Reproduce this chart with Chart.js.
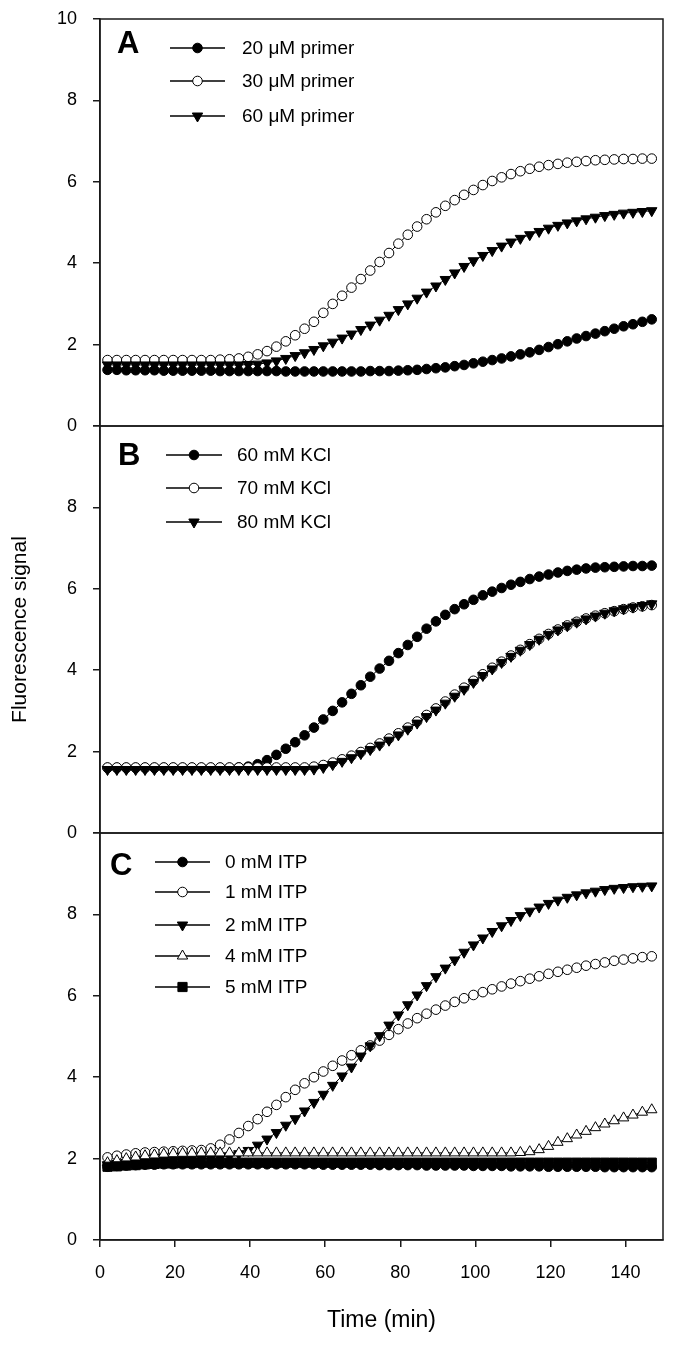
<!DOCTYPE html>
<html><head><meta charset="utf-8">
<script src="https://cdn.jsdelivr.net/npm/chart.js@4.4.1/dist/chart.umd.min.js"></script>
<style>
html,body{margin:0;padding:0;background:#fff;width:676px;height:1346px;overflow:hidden;}
.p{position:absolute;left:0;}
canvas{display:block;}
</style></head><body>
<div class="p" style="top:0px"><canvas id="cA" width="676" height="450" style="width:676px;height:450px"></canvas></div>
<div class="p" style="top:410px"><canvas id="cB" width="676" height="440" style="width:676px;height:440px"></canvas></div>
<div class="p" style="top:817px"><canvas id="cC" width="676" height="529" style="width:676px;height:529px"></canvas></div>
<script>
// ---------- data ----------
const time = [2,4.5,7,9.5,12,14.5,17,19.5,22,24.5,
  27,29.5,32,34.5,37,39.5,42,44.5,47,49.5,
  52,54.5,57,59.5,62,64.5,67,69.5,72,74.5,
  77,79.5,82,84.5,87,89.5,92,94.5,97,99.5,
  102,104.5,107,109.5,112,114.5,117,119.5,122,124.5,
  127,129.5,132,134.5,137,139.5,142,144.5,147];

const xTicks = [0,20,40,60,80,100,120,140];
const yTicks = [0,2,4,6,8,10];

// Panel A
const primerLabels = ['20 \u03bcM primer','30 \u03bcM primer','60 \u03bcM primer'];
const primer20 = [1.38,1.38,1.37,1.37,1.37,1.37,1.36,1.36,1.36,1.36,
  1.36,1.36,1.35,1.35,1.35,1.35,1.35,1.35,1.35,1.34,
  1.34,1.34,1.34,1.34,1.34,1.34,1.34,1.34,1.35,1.35,
  1.35,1.36,1.37,1.38,1.40,1.42,1.44,1.47,1.50,1.54,
  1.58,1.62,1.66,1.71,1.76,1.81,1.87,1.94,2.01,2.08,
  2.15,2.21,2.27,2.33,2.39,2.45,2.50,2.56,2.62];
const primer30 = [1.62,1.62,1.62,1.62,1.62,1.62,1.62,1.62,1.62,1.62,
  1.62,1.62,1.63,1.64,1.66,1.70,1.76,1.84,1.95,2.08,
  2.23,2.39,2.56,2.78,3.00,3.20,3.40,3.61,3.82,4.03,
  4.25,4.48,4.70,4.90,5.08,5.25,5.41,5.55,5.68,5.80,
  5.92,6.02,6.11,6.19,6.26,6.32,6.37,6.41,6.44,6.47,
  6.49,6.51,6.53,6.54,6.55,6.56,6.56,6.57,6.57];
const primer60 = [1.50,1.50,1.50,1.50,1.50,1.50,1.50,1.50,1.50,1.50,
  1.50,1.50,1.50,1.50,1.50,1.51,1.52,1.55,1.60,1.66,
  1.73,1.80,1.88,1.97,2.06,2.16,2.26,2.37,2.48,2.60,
  2.72,2.86,3.00,3.14,3.29,3.44,3.60,3.76,3.92,4.06,
  4.19,4.31,4.42,4.52,4.61,4.70,4.78,4.86,4.93,4.99,
  5.04,5.09,5.13,5.17,5.20,5.23,5.25,5.27,5.29];

// Panel B
const kclLabels = ['60 mM KCl','70 mM KCl','80 mM KCl'];
const kcl60 = [1.60,1.60,1.60,1.60,1.60,1.60,1.60,1.60,1.60,1.60,
  1.60,1.60,1.60,1.60,1.61,1.63,1.69,1.79,1.92,2.07,
  2.23,2.40,2.59,2.79,3.00,3.21,3.42,3.63,3.84,4.04,
  4.23,4.42,4.62,4.82,5.02,5.20,5.36,5.50,5.62,5.73,
  5.84,5.93,6.02,6.10,6.17,6.24,6.30,6.35,6.40,6.44,
  6.47,6.50,6.52,6.53,6.54,6.55,6.56,6.56,6.57];
const kcl70 = [1.61,1.61,1.61,1.61,1.61,1.61,1.61,1.61,1.61,1.61,
  1.61,1.61,1.61,1.61,1.61,1.61,1.61,1.61,1.61,1.61,
  1.61,1.61,1.63,1.67,1.73,1.81,1.90,1.99,2.09,2.20,
  2.32,2.45,2.59,2.74,2.90,3.06,3.23,3.40,3.57,3.74,
  3.90,4.06,4.21,4.36,4.50,4.64,4.77,4.89,5.00,5.10,
  5.19,5.27,5.34,5.40,5.45,5.50,5.54,5.57,5.60];
const kcl80 = [1.56,1.56,1.56,1.56,1.56,1.56,1.56,1.56,1.56,1.56,
  1.56,1.56,1.56,1.56,1.56,1.56,1.56,1.56,1.56,1.56,
  1.56,1.56,1.57,1.61,1.68,1.76,1.85,1.95,2.05,2.16,
  2.28,2.41,2.55,2.70,2.86,3.02,3.19,3.36,3.53,3.70,
  3.87,4.03,4.19,4.34,4.49,4.63,4.76,4.88,4.99,5.09,
  5.18,5.26,5.33,5.40,5.46,5.51,5.55,5.59,5.63];

// Panel C
const itpLabels = ['0 mM ITP','1 mM ITP','2 mM ITP','4 mM ITP','5 mM ITP'];
const itp0 = [1.80,1.82,1.83,1.84,1.85,1.85,1.86,1.86,1.86,1.86,
  1.86,1.86,1.86,1.86,1.86,1.86,1.86,1.86,1.86,1.86,
  1.86,1.86,1.86,1.85,1.85,1.85,1.85,1.85,1.85,1.84,
  1.84,1.84,1.84,1.84,1.83,1.83,1.83,1.83,1.83,1.82,
  1.82,1.82,1.82,1.81,1.81,1.81,1.81,1.80,1.80,1.80,
  1.80,1.80,1.80,1.79,1.79,1.79,1.79,1.79,1.79];
const itp1 = [2.03,2.07,2.10,2.13,2.15,2.16,2.17,2.18,2.19,2.20,
  2.21,2.25,2.34,2.47,2.63,2.80,2.97,3.15,3.32,3.51,
  3.69,3.85,4.00,4.14,4.28,4.41,4.54,4.66,4.78,4.90,
  5.04,5.18,5.32,5.45,5.56,5.66,5.76,5.85,5.94,6.02,
  6.09,6.16,6.23,6.30,6.36,6.42,6.48,6.54,6.59,6.64,
  6.69,6.74,6.78,6.82,6.86,6.89,6.92,6.95,6.97];
const itp2 = [1.85,1.88,1.90,1.92,1.94,1.95,1.96,1.97,1.98,1.99,
  2.00,2.01,2.03,2.06,2.12,2.20,2.33,2.48,2.64,2.82,
  2.98,3.17,3.38,3.58,3.80,4.03,4.25,4.52,4.77,5.02,
  5.28,5.53,5.78,6.02,6.25,6.47,6.68,6.88,7.07,7.25,
  7.42,7.58,7.72,7.85,7.97,8.08,8.18,8.27,8.35,8.42,
  8.48,8.53,8.57,8.61,8.64,8.66,8.68,8.69,8.70];
const itp4 = [1.90,1.95,2.00,2.04,2.07,2.09,2.11,2.12,2.13,2.13,
  2.14,2.14,2.14,2.14,2.14,2.14,2.14,2.14,2.14,2.14,
  2.14,2.14,2.14,2.14,2.14,2.14,2.14,2.14,2.14,2.14,
  2.14,2.14,2.14,2.14,2.14,2.14,2.14,2.14,2.14,2.14,
  2.14,2.14,2.14,2.14,2.15,2.17,2.22,2.30,2.40,2.49,
  2.58,2.67,2.76,2.85,2.93,3.00,3.07,3.14,3.20];
const itp5 = [1.80,1.81,1.83,1.84,1.86,1.87,1.88,1.88,1.89,1.89,
  1.90,1.90,1.90,1.90,1.90,1.90,1.90,1.90,1.90,1.90,
  1.90,1.90,1.90,1.90,1.90,1.90,1.90,1.90,1.90,1.90,
  1.90,1.90,1.90,1.90,1.90,1.90,1.90,1.90,1.90,1.90,
  1.90,1.90,1.90,1.90,1.90,1.90,1.90,1.90,1.90,1.90,
  1.90,1.90,1.90,1.90,1.90,1.90,1.90,1.90,1.90];

// ---------- styles ----------
const FONT = "'Liberation Sans', Arial, Helvetica, sans-serif";
const INK = '#1a1a1a';
Chart.defaults.font.family = FONT;
Chart.defaults.color = '#000';

const MK = {
  filledCircle: {pointStyle:'circle', radius:4.8, rotation:0, fill:'#000'},
  openCircle:   {pointStyle:'circle', radius:4.8, rotation:0, fill:'#fff'},
  downTri:      {pointStyle:'triangle', radius:6, rotation:180, fill:'#000'},
  upTri:        {pointStyle:'triangle', radius:6, rotation:0, fill:'#fff'},
  square:       {pointStyle:'rect', radius:6.5, rotation:0, fill:'#000'}
};

function ds(label, values, mk, idx) {
  return {
    label: label,
    data: time.map((t, i) => ({x: t, y: values[i]})),
    order: -idx,
    showLine: true,
    borderColor: '#000',
    borderWidth: 1,
    pointStyle: mk.pointStyle,
    pointRadius: mk.radius,
    pointRotation: mk.rotation,
    pointBackgroundColor: mk.fill,
    pointBorderColor: '#000',
    pointBorderWidth: 1,
    fill: false,
    tension: 0,
    _mk: mk
  };
}

function drawMarker(ctx, mk, x, y) {
  ctx.save();
  ctx.fillStyle = mk.fill;
  ctx.strokeStyle = '#000';
  ctx.lineWidth = 1;
  if (Chart.helpers && Chart.helpers.drawPoint) {
    Chart.helpers.drawPoint(ctx, {pointStyle: mk.pointStyle, rotation: mk.rotation, radius: mk.radius, borderWidth: 1}, x, y);
  } else {
    ctx.beginPath(); ctx.arc(x, y, mk.radius, 0, Math.PI*2); ctx.fill(); ctx.stroke();
  }
  ctx.restore();
}

const panelPlugin = {
  id: 'panelDeco',
  afterDraw(chart) {
    const o = chart.options.plugins.panelDeco;
    if (!o) return;
    const ctx = chart.ctx;
    const a = chart.chartArea;
    ctx.save();
    ctx.strokeStyle = INK;
    ctx.lineWidth = 1.5;
    ctx.strokeRect(a.left, a.top, a.right - a.left, a.bottom - a.top);
    ctx.fillStyle = '#000';
    ctx.font = 'bold 31px ' + FONT;
    ctx.textAlign = 'left';
    ctx.textBaseline = 'alphabetic';
    ctx.fillText(o.letter, a.left + o.letterX, a.top + o.letterY);
    ctx.font = '19px ' + FONT;
    ctx.textBaseline = 'middle';
    chart.data.datasets.forEach((d, i) => {
      const y = a.top + o.rows[i];
      ctx.strokeStyle = '#000';
      ctx.lineWidth = 1.5;
      ctx.beginPath();
      ctx.moveTo(a.left + o.x1, y);
      ctx.lineTo(a.left + o.x2, y);
      ctx.stroke();
      drawMarker(ctx, d._mk, a.left + (o.x1 + o.x2) / 2, y);
      ctx.fillStyle = '#000';
      ctx.fillText(d.label, a.left + o.tx, y + 1);
    });
    ctx.restore();
  }
};

function makeOptions(cfg) {
  return {
    responsive: false,
    animation: false,
    devicePixelRatio: 1,
    events: [],
    layout: {padding: {left: 0, right: 13, top: cfg.padTop, bottom: cfg.padBottom}},
    plugins: {
      legend: {display: false},
      tooltip: {enabled: false},
      panelDeco: cfg.deco
    },
    scales: {
      x: {
        type: 'linear',
        min: 0, max: 150,
        display: cfg.showX,
        afterBuildTicks: (s) => { s.ticks = xTicks.map(v => ({value: v})); },
        afterFit: (s) => { if (cfg.showX) s.height = 106; s.paddingLeft = 0; s.paddingRight = 0; },
        ticks: {font: {size: 18}, color: '#000', padding: 15, maxRotation: 0, autoSkip: false},
        grid: {drawOnChartArea: false, drawTicks: true, tickLength: 7, color: INK, lineWidth: 1.5},
        border: {display: true, color: INK, width: 1.5},
        title: {display: true, text: 'Time (min)', font: {size: 23}, color: '#000', padding: {top: 4, bottom: 12}}
      },
      y: {
        type: 'linear',
        min: 0, max: 10,
        afterBuildTicks: (s) => { s.ticks = yTicks.map(v => ({value: v})); },
        afterFit: (s) => { s.width = 100; s.paddingTop = 0; s.paddingBottom = 0; },
        ticks: {
          font: {size: 18}, color: '#000', padding: 16,
          callback: (v) => (cfg.hideTop && v === 10) ? '' : String(v)
        },
        grid: {drawOnChartArea: false, drawTicks: true, tickLength: 7, color: INK, lineWidth: 1.5},
        border: {display: true, color: INK, width: 1.5},
        title: {display: cfg.yTitle, text: 'Fluorescence signal', font: {size: 21}, color: '#000', padding: {top: 8, bottom: 4}}
      }
    }
  };
}

new Chart(document.getElementById('cA'), {
  type: 'scatter',
  data: {datasets: [
    ds(primerLabels[0], primer20, MK.filledCircle, 0),
    ds(primerLabels[1], primer30, MK.openCircle, 1),
    ds(primerLabels[2], primer60, MK.downTri, 2)
  ]},
  options: makeOptions({padTop: 19, padBottom: 24, showX: false, hideTop: false, yTitle: false,
    deco: {letter: 'A', letterX: 17, letterY: 34, x1: 70, x2: 125, tx: 142, rows: [29, 62, 97]}}),
  plugins: [panelPlugin]
});

new Chart(document.getElementById('cB'), {
  type: 'scatter',
  data: {datasets: [
    ds(kclLabels[0], kcl60, MK.filledCircle, 0),
    ds(kclLabels[1], kcl70, MK.openCircle, 1),
    ds(kclLabels[2], kcl80, MK.downTri, 2)
  ]},
  options: makeOptions({padTop: 16, padBottom: 17, showX: false, hideTop: true, yTitle: true,
    deco: {letter: 'B', letterX: 18, letterY: 39, x1: 66, x2: 122, tx: 137, rows: [29, 62, 96]}}),
  plugins: [panelPlugin]
});

new Chart(document.getElementById('cC'), {
  type: 'scatter',
  data: {datasets: [
    ds(itpLabels[0], itp0, MK.filledCircle, 0),
    ds(itpLabels[1], itp1, MK.openCircle, 1),
    ds(itpLabels[2], itp2, MK.downTri, 2),
    ds(itpLabels[3], itp4, MK.upTri, 3),
    ds(itpLabels[4], itp5, MK.square, 4)
  ]},
  options: makeOptions({padTop: 16, padBottom: 0, showX: true, hideTop: true, yTitle: false,
    deco: {letter: 'C', letterX: 10, letterY: 42, x1: 55, x2: 110, tx: 125, rows: [29, 59, 92, 123, 154]}}),
  plugins: [panelPlugin]
});
</script>
</body></html>
